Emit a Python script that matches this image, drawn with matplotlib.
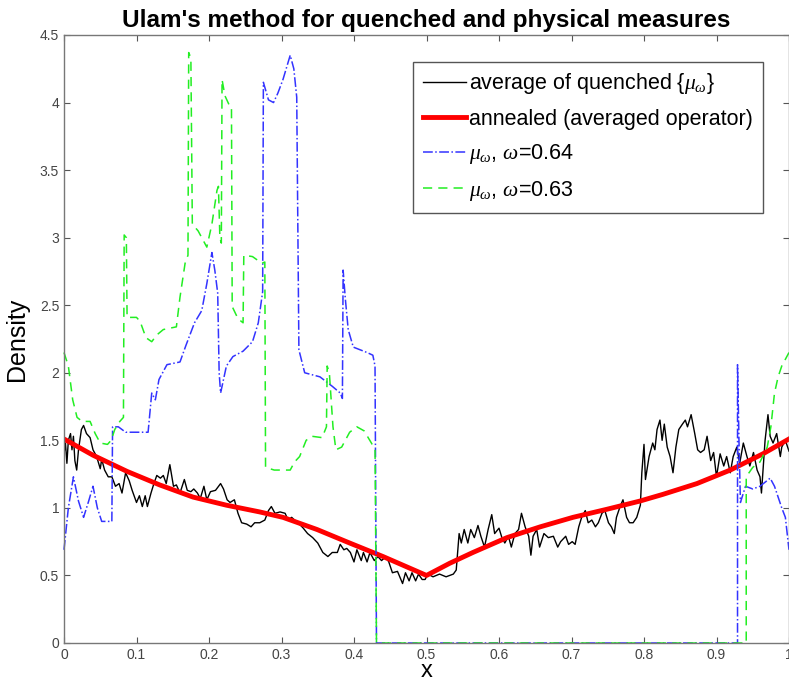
import numpy as np
import matplotlib
matplotlib.use('Agg')
import matplotlib.pyplot as plt

plt.rcParams['font.family'] = ['Liberation Sans', 'DejaVu Sans']
plt.rcParams['mathtext.fontset'] = 'custom'
plt.rcParams['mathtext.it'] = 'Liberation Serif:italic'
plt.rcParams['mathtext.rm'] = 'Liberation Sans'

# average of quenched densities (black)
x_avg = [0.0, 0.002, 0.004, 0.006, 0.009, 0.011, 0.013, 0.015, 0.0175, 0.02, 0.024, 0.027,
         0.031, 0.036, 0.04, 0.045, 0.05, 0.052, 0.056, 0.061, 0.066, 0.071, 0.076, 0.08,
         0.085, 0.09, 0.094, 0.1, 0.104, 0.108, 0.112, 0.115, 0.12, 0.124, 0.128, 0.133,
         0.137, 0.141, 0.146, 0.151, 0.155, 0.16, 0.166, 0.17, 0.175, 0.179, 0.184, 0.188,
         0.193, 0.197, 0.202, 0.209, 0.216, 0.22, 0.225, 0.229, 0.235, 0.24, 0.245, 0.252,
         0.258, 0.263, 0.27, 0.277, 0.282, 0.286, 0.291, 0.298, 0.305, 0.309, 0.314, 0.318,
         0.323, 0.33, 0.336, 0.343, 0.35, 0.357, 0.364, 0.37, 0.377, 0.381, 0.386, 0.39,
         0.395, 0.4, 0.404, 0.41, 0.413, 0.418, 0.422, 0.428, 0.433, 0.438, 0.444, 0.448,
         0.453, 0.46, 0.467, 0.471, 0.476, 0.48, 0.485, 0.489, 0.494, 0.498, 0.502, 0.509,
         0.518, 0.527, 0.537, 0.541, 0.545, 0.548, 0.552, 0.557, 0.561, 0.566, 0.571, 0.575,
         0.58, 0.585, 0.59, 0.594, 0.6, 0.604, 0.608, 0.613, 0.617, 0.622, 0.627, 0.631,
         0.636, 0.641, 0.644, 0.647, 0.652, 0.656, 0.662, 0.668, 0.675, 0.681, 0.685, 0.692,
         0.696, 0.701, 0.705, 0.71, 0.714, 0.719, 0.723, 0.728, 0.733, 0.737, 0.742, 0.746,
         0.751, 0.755, 0.759, 0.762, 0.767, 0.771, 0.776, 0.78, 0.785, 0.79, 0.795, 0.797,
         0.8, 0.802, 0.807, 0.812, 0.815, 0.818, 0.822, 0.825, 0.828, 0.832, 0.836, 0.84,
         0.844, 0.848, 0.853, 0.857, 0.86, 0.865, 0.87, 0.874, 0.878, 0.883, 0.887, 0.892,
         0.896, 0.9, 0.905, 0.91, 0.914, 0.919, 0.923, 0.928, 0.932, 0.937, 0.942, 0.946,
         0.951, 0.956, 0.96, 0.962, 0.967, 0.971, 0.974, 0.978, 0.983, 0.988, 0.99, 0.995, 1.0]
y_avg = [1.40, 1.48, 1.33, 1.50, 1.55, 1.43, 1.53, 1.35, 1.28, 1.43, 1.58, 1.61,
         1.55, 1.52, 1.43, 1.38, 1.29, 1.36, 1.28, 1.23, 1.23, 1.16, 1.18, 1.11,
         1.26, 1.20, 1.13, 1.04, 1.09, 1.01, 1.09, 1.01, 1.11, 1.18, 1.24, 1.22,
         1.24, 1.18, 1.32, 1.16, 1.17, 1.11, 1.21, 1.13, 1.12, 1.14, 1.11, 1.07,
         1.16, 1.06, 1.12, 1.13, 1.18, 1.14, 1.06, 1.04, 1.06, 0.96, 0.89, 0.88,
         0.86, 0.89, 0.89, 0.91, 0.98, 1.01, 0.96, 0.97, 0.96, 0.91, 0.93, 0.91,
         0.89, 0.85, 0.81, 0.78, 0.74, 0.67, 0.64, 0.67, 0.67, 0.73, 0.69, 0.70,
         0.67, 0.60, 0.69, 0.61, 0.67, 0.60, 0.67, 0.61, 0.64, 0.61, 0.64, 0.60,
         0.52, 0.53, 0.44, 0.52, 0.46, 0.52, 0.46, 0.51, 0.47, 0.47, 0.51, 0.49,
         0.51, 0.49, 0.51, 0.54, 0.81, 0.74, 0.84, 0.74, 0.84, 0.78, 0.87, 0.79,
         0.71, 0.84, 0.95, 0.81, 0.85, 0.78, 0.74, 0.79, 0.71, 0.81, 0.84, 0.96,
         0.86, 0.79, 0.65, 0.79, 0.84, 0.71, 0.81, 0.78, 0.79, 0.71, 0.75, 0.79,
         0.73, 0.75, 0.73, 0.86, 0.93, 0.98, 0.89, 0.91, 0.86, 0.89, 0.96, 0.98,
         0.89, 0.86, 0.81, 0.93, 1.01, 1.06, 0.93, 0.89, 0.89, 0.93, 1.02, 1.26,
         1.47, 1.21, 1.38, 1.48, 1.43, 1.58, 1.65, 1.50, 1.62, 1.45, 1.38, 1.26,
         1.45, 1.58, 1.62, 1.65, 1.60, 1.69, 1.55, 1.43, 1.41, 1.43, 1.53, 1.35,
         1.41, 1.23, 1.40, 1.31, 1.38, 1.26, 1.38, 1.45, 1.33, 1.48, 1.38, 1.31,
         1.41, 1.28, 1.23, 1.11, 1.50, 1.69, 1.53, 1.48, 1.55, 1.38, 1.45, 1.50, 1.42]

# annealed density (red)
x_ann = [0.0, 0.04, 0.087, 0.132, 0.178, 0.224, 0.27, 0.302, 0.349, 0.394, 0.44, 0.5,
         0.532, 0.564, 0.611, 0.657, 0.702, 0.749, 0.794, 0.826, 0.873, 0.919, 0.964, 1.0]
y_ann = [1.51, 1.39, 1.27, 1.17, 1.08, 1.02, 0.97, 0.93, 0.84, 0.74, 0.64, 0.50,
         0.59, 0.67, 0.78, 0.86, 0.93, 0.99, 1.05, 1.10, 1.18, 1.28, 1.40, 1.51]

# mu_omega, omega = 0.64 (blue)
x_64 = [0.0, 0.006, 0.013, 0.02, 0.027, 0.034, 0.04, 0.046, 0.052, 0.063, 0.066, 0.067,
        0.075, 0.085, 0.116, 0.121, 0.126, 0.131, 0.142, 0.16, 0.168, 0.18, 0.19, 0.197,
        0.204, 0.208, 0.212, 0.214, 0.216, 0.22, 0.224, 0.233, 0.247, 0.26, 0.268, 0.274,
        0.275, 0.282, 0.289, 0.295, 0.302, 0.312, 0.317, 0.321, 0.324, 0.332, 0.353, 0.37,
        0.381, 0.384, 0.385, 0.388, 0.392, 0.399, 0.418, 0.426, 0.429, 0.431, 0.929, 0.929,
        0.931, 0.933, 0.94, 0.95, 0.96, 0.974, 0.98, 0.99, 0.995, 1.0]
y_64 = [0.69, 1.0, 1.23, 1.05, 0.93, 1.05, 1.16, 1.0, 0.9, 0.9, 0.9, 1.6,
        1.6, 1.56, 1.56, 1.85, 1.8, 1.95, 2.06, 2.08, 2.2, 2.37, 2.46, 2.66,
        2.89, 2.76, 2.59, 2.0, 1.85, 1.95, 2.05, 2.12, 2.16, 2.23, 2.37, 2.6,
        4.15, 4.02, 4.0, 4.07, 4.17, 4.35, 4.25, 4.04, 2.17, 2.0, 1.97, 1.9,
        1.85, 1.81, 2.76, 2.55, 2.32, 2.19, 2.15, 2.13, 2.05, 0.0, 0.0, 2.06,
        1.5, 1.04, 1.16, 1.14, 1.16, 1.22, 1.16, 1.0, 0.93, 0.69]

# mu_omega, omega = 0.63 (green)
x_63 = [0.0, 0.006, 0.012, 0.018, 0.025, 0.036, 0.043, 0.05, 0.06, 0.065, 0.07, 0.077,
        0.082, 0.083, 0.086, 0.087, 0.1, 0.105, 0.113, 0.121, 0.128, 0.137, 0.155, 0.16,
        0.167, 0.171, 0.172, 0.175, 0.177, 0.185, 0.197, 0.204, 0.211, 0.213, 0.215, 0.217,
        0.218, 0.222, 0.228, 0.231, 0.232, 0.24, 0.247, 0.248, 0.26, 0.273, 0.277, 0.278,
        0.29, 0.312, 0.318, 0.325, 0.334, 0.342, 0.356, 0.362, 0.363, 0.366, 0.371, 0.375,
        0.383, 0.394, 0.404, 0.414, 0.424, 0.429, 0.431, 0.941, 0.941, 0.95, 0.96, 0.97,
        0.975, 0.98, 0.985, 0.99, 1.0]
y_63 = [2.15, 2.05, 1.8, 1.67, 1.64, 1.64, 1.55, 1.48, 1.47, 1.5, 1.58, 1.64,
        1.67, 3.02, 3.0, 2.41, 2.41, 2.38, 2.26, 2.23, 2.28, 2.32, 2.34, 2.56,
        2.81, 2.87, 4.37, 4.33, 3.1, 3.05, 2.93, 3.1, 3.35, 3.38, 3.0, 2.96,
        4.17, 4.05, 3.98, 3.97, 2.49, 2.4, 2.37, 2.87, 2.86, 2.81, 2.82, 1.3,
        1.28, 1.28, 1.34, 1.38, 1.5, 1.53, 1.52, 1.6, 2.05, 2.0, 1.6, 1.43,
        1.45, 1.56, 1.6, 1.57, 1.48, 1.43, 0.0, 0.0, 1.23, 1.3, 1.34, 1.45,
        1.6, 1.85, 1.97, 2.05, 2.15]

fig = plt.figure(figsize=(7.89, 6.83), dpi=100)
ax = fig.add_axes([64 / 789, 40 / 683, 725 / 789, 608 / 683])

ax.plot(x_avg, y_avg, color='k', lw=1.0, label=r'average of quenched {$\mu_\omega$}')
ax.plot(x_ann, y_ann, color='#ff0000', lw=3.5, label='annealed (averaged operator)')
ax.plot(x_64, y_64, color='#3333ff', lw=1.1, ls='-.', clip_on=False,
        label=r'$\mu_\omega$, $\omega$=0.64')
ax.plot(x_63, y_63, color='#22ee22', lw=1.1, ls=(0, (6, 4)), clip_on=False,
        label=r'$\mu_\omega$, $\omega$=0.63')

ax.set_xlim(0, 1)
ax.set_ylim(0, 4.5)
ax.set_xticks(np.arange(0, 1.01, 0.1))
ax.set_xticklabels(['0', '0.1', '0.2', '0.3', '0.4', '0.5', '0.6', '0.7', '0.8', '0.9', '1'])
ax.set_yticks(np.arange(0, 4.51, 0.5))
ax.set_yticklabels(['0', '0.5', '1', '1.5', '2', '2.5', '3', '3.5', '4', '4.5'])
ax.tick_params(direction='in', top=True, right=True, length=4, width=0.8,
               colors='#555555', labelsize=10, labelcolor='#444444')
for s in ax.spines.values():
    s.set_color('#777777')
    s.set_linewidth(1.0)

ax.set_title("Ulam's method for quenched and physical measures", fontsize=17.5,
             fontweight='bold', pad=6)
ax.set_xlabel('x', fontsize=17, labelpad=-1)
ax.set_ylabel('Density', fontsize=18, labelpad=8)

leg = ax.legend(loc='upper right', bbox_to_anchor=(0.964, 0.956), fontsize=15.5,
                handlelength=2.0, handletextpad=0.15, labelspacing=0.58,
                borderpad=0.45, borderaxespad=0, fancybox=False, framealpha=1)
leg.get_frame().set_edgecolor('#555555')
leg.get_frame().set_linewidth(1.0)

fig.savefig('out.png', dpi=100)
